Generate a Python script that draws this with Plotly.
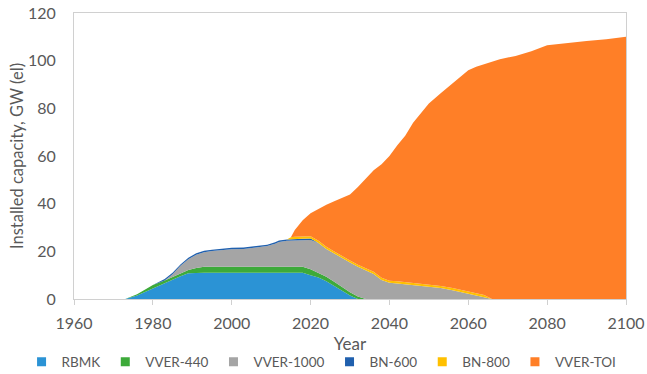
import plotly.graph_objects as go

years = [1960, 1972, 1973, 1976, 1980, 1983, 1985, 1987, 1989, 1991, 1993, 1995, 1997,
         2000, 2003, 2006, 2009, 2011, 2012, 2014, 2015, 2016, 2018, 2020, 2022, 2024,
         2026, 2028, 2030, 2032, 2034, 2036, 2038, 2040, 2042, 2044, 2046, 2048, 2050,
         2053, 2056, 2058, 2060, 2062, 2064, 2066, 2068, 2072, 2076, 2080, 2085, 2090,
         2095, 2100]

rbmk = [0, 0, 0, 1.5, 4.5, 6.5, 8, 9.5, 10.8, 11, 11, 11, 11,
        11, 11, 11, 11, 11, 11, 11, 11, 11, 11, 10, 9, 7.5,
        5.5, 3.5, 1.5, 0, 0, 0, 0, 0, 0, 0, 0, 0, 0,
        0, 0, 0, 0, 0, 0, 0, 0, 0, 0, 0, 0, 0,
        0, 0]

vver440 = [0, 0, 0, 0.5, 1.4, 1.3, 1.3, 1.5, 1.4, 2, 2.5, 2.5, 2.5,
           2.5, 2.5, 2.5, 2.5, 2.5, 2.5, 2.5, 2.5, 2.5, 2.5, 2.5, 2, 1.8,
           1.7, 1.5, 1.3, 1, 0, 0, 0, 0, 0, 0, 0, 0, 0,
           0, 0, 0, 0, 0, 0, 0, 0, 0, 0, 0, 0, 0,
           0, 0]

vver1000 = [0, 0, 0, 0, 0, 0, 1.1, 2.9, 4.5, 5.6, 6.1, 6.6, 6.9,
            7.4, 7.5, 8.2, 8.7, 9.7, 10.4, 10.9, 10.9, 11.1, 11.2, 12.3, 12.5, 11.7,
            11.8, 12, 12.5, 12.5, 12, 10.5, 8, 6.8, 6.5, 6.2, 5.8, 5.5, 5.2,
            4.6, 3.7, 3, 2.4, 1.6, 0.8, 0, 0, 0, 0, 0, 0, 0,
            0, 0]

bn600 = [0, 0, 0, 0, 0, 0.6, 0.6, 0.6, 0.6, 0.6, 0.6, 0.6, 0.6,
         0.6, 0.6, 0.6, 0.6, 0.6, 0.6, 0.6, 0.6, 0.6, 0.6, 0.6, 0, 0,
         0, 0, 0, 0, 0, 0, 0, 0, 0, 0, 0, 0, 0,
         0, 0, 0, 0, 0, 0, 0, 0, 0, 0, 0, 0, 0,
         0, 0]

bn800 = [0, 0, 0, 0, 0, 0, 0, 0, 0, 0, 0, 0, 0,
         0, 0, 0, 0, 0, 0, 0, 0.9, 0.9, 0.9, 0.9, 0.9, 0.9,
         0.9, 0.9, 0.9, 0.9, 0.9, 0.9, 0.9, 0.9, 0.9, 0.9, 0.9, 0.9, 0.9,
         0.9, 0.9, 0.9, 0.9, 0.9, 0.9, 0, 0, 0, 0, 0, 0, 0,
         0, 0]

vvertoi = [0, 0, 0, 0, 0, 0, 0, 0, 0, 0, 0, 0, 0,
           0, 0, 0, 0, 0, 0, 0, 0, 2.9, 6.8, 9.7, 13.4, 17.6,
           21.1, 24.6, 27.6, 32.6, 37.6, 42.6, 47.6, 52.3, 57.1, 61.4, 67.3, 71.6, 75.9,
           80.8, 85.9, 89.6, 92.7, 95, 96.8, 99.5, 100.6, 102, 104, 106.5, 107.5, 108.2,
           109, 110]

series = [
    ("RBMK", rbmk, "#2B93D5"),
    ("VVER-440", vver440, "#3DAA3A"),
    ("VVER-1000", vver1000, "#A5A5A5"),
    ("BN-600", bn600, "#2060AE"),
    ("BN-800", bn800, "#FFC000"),
    ("VVER-TOI", vvertoi, "#FF7F27"),
]

x_ticks = [1960, 1980, 2000, 2020, 2040, 2060, 2080, 2100]
y_ticks = [0, 20, 40, 60, 80, 100, 120]

fig = go.Figure()
for name, vals, col in series:
    fig.add_trace(go.Scatter(
        x=years, y=vals, name=name, mode="lines", stackgroup="one",
        line=dict(width=0, color=col), fillcolor=col, showlegend=False,
        legendgroup=name,
    ))
# legend entries drawn as small squares, as in the original
for name, vals, col in series:
    fig.add_trace(go.Scatter(
        x=[None], y=[None], name=name, mode="markers", legendgroup=name,
        marker=dict(symbol="square", size=9, color=col), showlegend=True,
    ))

font_family = "Lato, 'Open Sans', sans-serif"
grey = "#595959"
fig.update_layout(
    width=647, height=374,
    margin=dict(l=74, r=21, t=13, b=75, autoexpand=False),
    paper_bgcolor="white", plot_bgcolor="white",
    font=dict(family=font_family, color=grey, size=15),
    showlegend=True,
    legend=dict(orientation="h", x=-0.095, xanchor="left", y=-0.22, yanchor="middle",
                font=dict(size=13.5, color=grey), itemwidth=30,
                tracegroupgap=0, traceorder="normal", bgcolor="rgba(0,0,0,0)"),
    xaxis=dict(range=[1960, 2100], tickvals=x_ticks, ticktext=[str(v) for v in x_ticks],
               showgrid=False, zeroline=False, showline=True, linecolor="#D0D0D0",
               linewidth=1, mirror=True, ticks="outside", ticklen=5, tickcolor="#D0D0D0",
               ticklabelstandoff=5, ticklabeloverflow="allow",
               tickfont=dict(size=16, color=grey),
               title=dict(text="Year", font=dict(size=17, color=grey), standoff=6)),
    yaxis=dict(range=[0, 120], tickvals=y_ticks, showgrid=False, zeroline=False,
               showline=True, linecolor="#D0D0D0", linewidth=1, mirror=True,
               ticks="", ticklabelstandoff=14, ticklabeloverflow="allow",
               tickfont=dict(size=16, color=grey),
               title=dict(text="Installed capacity, GW (el)",
                          font=dict(size=16.5, color=grey), standoff=0)),
)

fig.write_html("out.html", config={"displayModeBar": False},
               post_script="document.body.style.margin='0px';document.body.style.padding='0px';")
